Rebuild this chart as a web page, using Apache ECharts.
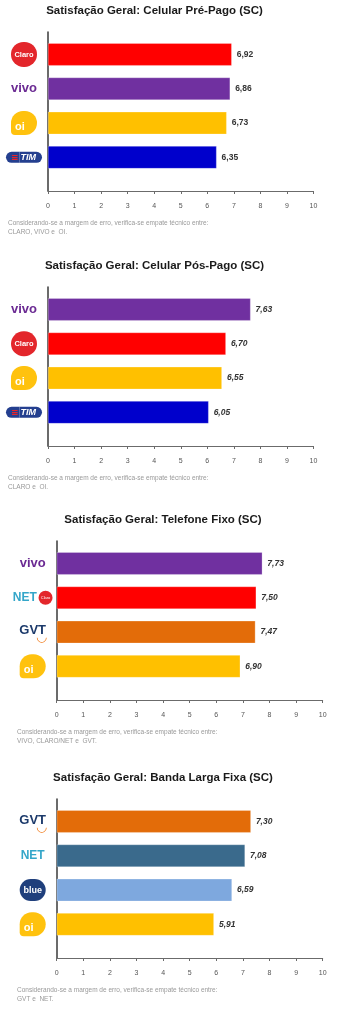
<!DOCTYPE html>
<html>
<head>
<meta charset="utf-8">
<script src="https://cdn.jsdelivr.net/npm/echarts@6/dist/echarts.min.js"></script>
<style>
html,body{margin:0;padding:0;background:#fff;}
#c{width:351px;height:1024px;}
</style>
</head>
<body>
<div id="c"></div>
<script>
// ---- data ----
const titles = [
  'Satisfação Geral: Celular Pré-Pago (SC)',
  'Satisfação Geral: Celular Pós-Pago (SC)',
  'Satisfação Geral: Telefone Fixo (SC)',
  'Satisfação Geral: Banda Larga Fixa (SC)'
];
const cats1 = ['Claro', 'vivo', 'oi', 'TIM'];
const vals1 = [6.92, 6.86, 6.73, 6.35];
const cats2 = ['vivo', 'Claro', 'oi', 'TIM'];
const vals2 = [7.63, 6.70, 6.55, 6.05];
const cats3 = ['vivo', 'NET Claro', 'GVT', 'oi'];
const vals3 = [7.73, 7.50, 7.47, 6.90];
const cats4 = ['GVT', 'NET', 'blue', 'oi'];
const vals4 = [7.30, 7.08, 6.59, 5.91];
const noteLine1 = 'Considerando-se a margem de erro, verifica-se empate técnico entre:';
const notes2 = ['CLARO, VIVO e  OI.', 'CLARO e  OI.', 'VIVO, CLARO/NET e  GVT.', 'GVT e  NET.'];
const axisMin = 0, axisMax = 10, axisStep = 1;

// ---- styling ----
const colorOf = {
  'Claro': '#FF0000', 'vivo': '#7030A0', 'oi': '#FFC000', 'TIM': '#0000CC',
  'NET Claro': '#FF0000', 'GVT': '#E36C09', 'NET': '#3A6A8C', 'blue': '#7EA8DE'
};
const logoFmt = {
  'Claro': '{claro|Claro}',
  'vivo': '{vivo|vivo}',
  'oi': '{oi|oi}',
  'TIM': '{timr|≡}{tim|TIM}',
  'NET Claro': '{net|NET}{sp| }{claroS|Claro}',
  'GVT': '{gvt|GVT}\n{smile|◡}',
  'NET': '{net|NET}',
  'blue': '{blue|blue}'
};
const rich = {
  claro: {backgroundColor:'#E3262B', borderRadius:13, width:26, height:25, lineHeight:25, align:'center',
          color:'#fff', fontSize:7.5, fontWeight:'bold', fontFamily:'Liberation Sans'},
  vivo: {color:'#6B2A93', fontSize:13, fontWeight:'bold', fontFamily:'Liberation Sans'},
  oi: {backgroundColor:'#FFC20E', borderRadius:[12,12,12,4], width:22, height:14, lineHeight:14, align:'left',
       padding:[9,0,1,4], color:'#fff', fontSize:11, fontWeight:'bold', fontFamily:'Liberation Sans'},
  timr: {backgroundColor:'#243F8F', color:'#E8242A', fontSize:9, fontWeight:'bold', height:11, lineHeight:11,
         padding:[0,1,0,5], borderRadius:[6,0,0,6], fontFamily:'DejaVu Sans'},
  tim: {backgroundColor:'#243F8F', color:'#fff', fontSize:9, fontWeight:'bold', fontStyle:'italic', height:11, lineHeight:11,
        padding:[0,6,0,1], borderRadius:[0,6,6,0], fontFamily:'Liberation Sans'},
  net: {color:'#34A6C9', fontSize:12, fontWeight:'bold', fontFamily:'Liberation Sans'},
  sp: {fontSize:6},
  claroS: {backgroundColor:'#E3262B', borderRadius:7, width:14, height:14, lineHeight:14, align:'center',
           color:'#fff', fontSize:4, fontFamily:'Liberation Sans'},
  gvt: {color:'#1C3A6B', fontSize:13, fontWeight:'bold', fontFamily:'Liberation Sans', lineHeight:12, padding:[4,0,0,0]},
  smile: {color:'#F07A1A', fontSize:13, fontWeight:'bold', fontFamily:'DejaVu Sans', lineHeight:7, padding:[0,0,0,18]},
  blue: {backgroundColor:'#1F3F7C', borderRadius:13, width:26, height:22, lineHeight:22, align:'center',
         color:'#fff', fontSize:9, fontWeight:'bold', fontFamily:'Liberation Sans'}
};

const charts = [
  {cats:cats1, vals:vals1, off:0,   left:48,   right:37.5, titleX:154.5, noteX:8,  italic:false},
  {cats:cats2, vals:vals2, off:255, left:48,   right:37.5, titleX:154.5, noteX:8,  italic:true},
  {cats:cats3, vals:vals3, off:509, left:56.7, right:28.3, titleX:163,   noteX:17, italic:true},
  {cats:cats4, vals:vals4, off:767, left:56.7, right:28.3, titleX:163,   noteX:17, italic:true}
];

const grid = [], xAxis = [], yAxis = [], series = [], graphic = [];
charts.forEach((c, i) => {
  // frame grid (axis lines + ticks)
  grid.push({left:c.left, right:c.right, top:32 + c.off, height:159});
  // bar grid
  grid.push({left:c.left, right:c.right, top:37.3 + c.off, height:137.2});
  const fg = grid.length - 2, bg = grid.length - 1;
  xAxis.push({
    gridIndex:fg, type:'value', min:axisMin, max:axisMax, interval:axisStep,
    axisLine:{show:true, lineStyle:{color:'#6b6b6b', width:1}},
    axisTick:{show:true, length:3, lineStyle:{color:'#6b6b6b'}},
    axisLabel:{fontSize:7, color:'#555', margin:12, fontFamily:'Liberation Sans'},
    splitLine:{show:false}
  });
  yAxis.push({
    gridIndex:fg, type:'value', min:0, max:1,
    axisLine:{show:true, lineStyle:{color:'#3a3a3a', width:1.5}},
    axisTick:{show:false}, axisLabel:{show:false}, splitLine:{show:false}
  });
  xAxis.push({gridIndex:bg, type:'value', min:axisMin, max:axisMax, show:false});
  yAxis.push({
    gridIndex:bg, type:'category', data:c.cats, inverse:true,
    axisLine:{show:false}, axisTick:{show:false}, splitLine:{show:false},
    axisLabel:{align:'center', margin:24, formatter:(v) => logoFmt[v], rich:rich}
  });
  series.push({
    type:'bar', xAxisIndex:xAxis.length - 1, yAxisIndex:yAxis.length - 1,
    barWidth:22.5, silent:true,
    data:c.vals.map((v, k) => ({value:v, itemStyle:{color:colorOf[c.cats[k]], borderColor:'rgba(255,255,255,0.5)', borderWidth:0.5}})),
    label:{show:true, position:'right', distance:5, color:'#333', fontSize:8.5, fontWeight:'bold',
           fontStyle:c.italic ? 'italic' : 'normal', fontFamily:'Liberation Sans',
           formatter:(p) => p.value.toFixed(2).replace('.', ',')}
  });
  graphic.push({type:'text', x:c.titleX, y:10.7 + c.off, silent:true,
    style:{text:titles[i], fill:'#1a1a1a', font:'bold 11.5px "Liberation Sans"', textAlign:'center', textVerticalAlign:'middle'}});
  graphic.push({type:'text', x:c.noteX, y:223 + c.off, silent:true,
    style:{text:noteLine1, fill:'#999', font:'6.5px "Liberation Sans"', textAlign:'left', textVerticalAlign:'middle'}});
  graphic.push({type:'text', x:c.noteX, y:232 + c.off, silent:true,
    style:{text:notes2[i], fill:'#999', font:'6.5px "Liberation Sans"', textAlign:'left', textVerticalAlign:'middle'}});
});

const chart = echarts.init(document.getElementById('c'), null, {renderer:'canvas'});
chart.setOption({animation:false, grid, xAxis, yAxis, series, graphic});
</script>
</body>
</html>
